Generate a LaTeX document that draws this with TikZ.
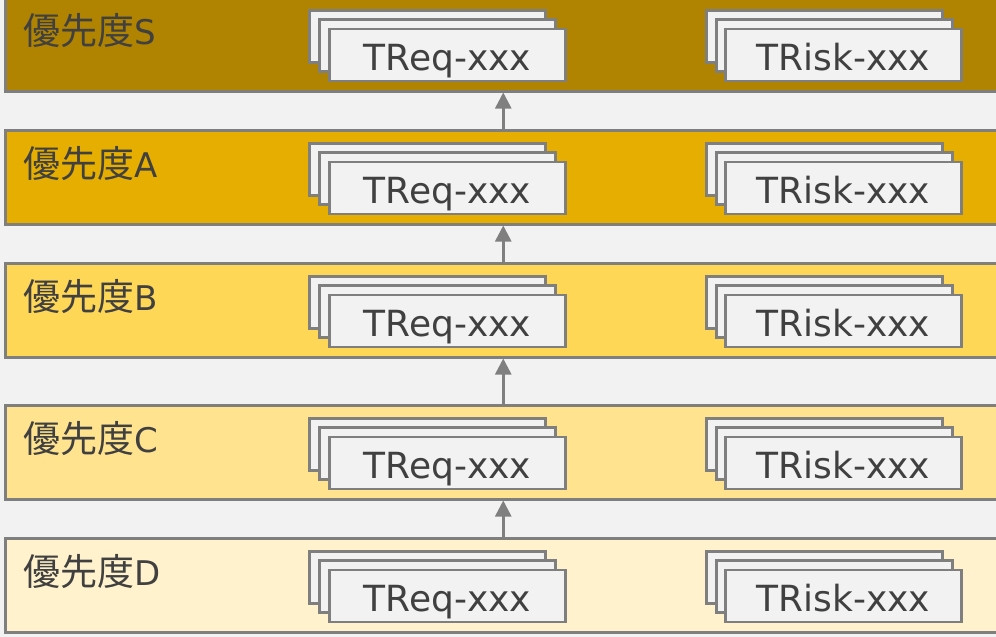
\documentclass[tikz,border=0pt]{standalone}
\usepackage{fontspec}
\setmainfont{DejaVu Sans}
\newfontfamily\jafont{Noto Sans CJK JP}
\usetikzlibrary{arrows.meta}

\definecolor{pageBg}{HTML}{F2F2F2}
\definecolor{frameGray}{HTML}{7F7F7F}
\definecolor{inkGray}{HTML}{404040}
\definecolor{prioS}{HTML}{B08300}
\definecolor{prioA}{HTML}{E6AF00}
\definecolor{prioB}{HTML}{FFD757}
\definecolor{prioC}{HTML}{FFE38F}
\definecolor{prioD}{HTML}{FFF2CC}

\begin{document}
\begin{tikzpicture}[x=1pt,y=-1pt,
  band/.style={draw=frameGray,line width=2.5pt,rectangle,inner sep=0pt,
    minimum width=996pt,minimum height=94pt,anchor=north west},
  card/.style={draw=frameGray,line width=2.5pt,fill=pageBg,rectangle,inner sep=0pt,
    minimum width=236pt,minimum height=52pt,anchor=north west},
  cardtext/.style={card,text=inkGray,font=\fontsize{36}{40}\selectfont,
    text height=36pt,text depth=4pt},
  prio/.style={anchor=base west,inner sep=0pt,text=inkGray},
  uparrow/.style={draw=frameGray,line width=2.5pt,-{Triangle[length=16pt,width=16pt]}}]

  % page area
  \useasboundingbox (0,0) rectangle (996,637);
  \clip (0,0) rectangle (996,637);
  \fill[pageBg] (0,0) rectangle (996,637);

  % one band per priority level, each with two stacks of cards
  \foreach \nm/\yy/\col in {S/-4/prioS, A/129/prioA, B/262/prioB, C/404/prioC, D/537/prioD} {
    \node[band,fill=\col] (band\nm) at (4,\yy) {};
    \node[prio] (lbl\nm) at (23,{\yy+48})
      {{\jafont\fontsize{37}{40}\selectfont 優先度}{\fontsize{34}{38}\selectfont\nm}};
    % requirement stack
    \node[card] (req\nm a) at (308,{\yy+13}) {};
    \node[card] (req\nm b) at (318,{\yy+22}) {};
    \node[cardtext] (req\nm c) at (328,{\yy+31.5}) {TReq-xxx};
    % risk stack
    \node[card] (risk\nm a) at (705,{\yy+13}) {};
    \node[card] (risk\nm b) at (715,{\yy+22}) {};
    \node[cardtext] (risk\nm c) at (724,{\yy+31.5}) {TRisk-xxx};
  }

  % escalation arrows between levels
  \draw[uparrow] (bandD.north) -- (bandC.south);
  \draw[uparrow] (bandC.north) -- (bandB.south);
  \draw[uparrow] (bandB.north) -- (bandA.south);
  \draw[uparrow] (bandA.north) -- (bandS.south);
\end{tikzpicture}
\end{document}
